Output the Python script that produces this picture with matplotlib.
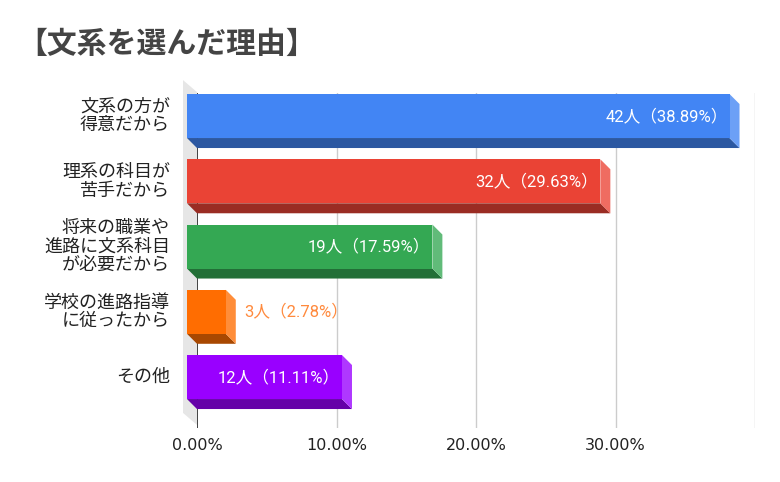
import matplotlib
matplotlib.use("Agg")
import matplotlib.pyplot as plt
from matplotlib.patches import Polygon
from matplotlib.colors import to_rgb
import numpy as np

title = "【文系を選んだ理由】"
categories = ["文系の方が\n得意だから", "理系の科目が\n苦手だから",
              "将来の職業や\n進路に文系科目\nが必要だから",
              "学校の進路指導\nに従ったから", "その他"]
counts = [42, 32, 19, 3, 12]
percents = [38.89, 29.63, 17.59, 2.78, 11.11]
colors = ["#4285F4", "#EA4335", "#34A853", "#FF6D01", "#9900FF"]
xticks = [0, 10, 20, 30, 40]
xticklabels = ["0.00%", "10.00%", "20.00%", "30.00%", ""]

W, H = 780, 482
fig = plt.figure(figsize=(W / 100, H / 100), dpi=100)
fig.patch.set_facecolor("white")

# back plane geometry (pixels)
L, R = 197, 755
T, B = 93.4, 427.5
XMAX = 40
YLO, YHI = -0.5, 4.62
ax = fig.add_axes([L / W, 1 - B / H, (R - L) / W, (B - T) / H])
ax.set_xlim(0, XMAX)
ax.set_ylim(YHI, YLO)
ax.axis("off")

pxx = (R - L) / XMAX
pxy = (B - T) / (YHI - YLO)
dx = 10 / pxx
dy = 10 / pxy
h = 44 / pxy

jp = ["Noto Sans CJK JP", "DejaVu Sans"]
lab_font = ["Roboto", "Noto Sans CJK JP", "DejaVu Sans"]

# left wall
wx = 14 / pxx
wy = 12 / pxy
wall = Polygon([(0, -0.52), (0, 4.58), (-wx, 4.58 - wy), (-wx, -0.52 - wy)],
               closed=True, facecolor="#e6e6e6", edgecolor="none",
               zorder=0, clip_on=False)
ax.add_patch(wall)

# gridlines
for v, lab in zip(xticks, xticklabels):
    if v == 0:
        ax.axvline(v, color="#333333", lw=1.3, zorder=1)
    else:
        ax.axvline(v, color="#cccccc", lw=1.0, zorder=1)
    if lab:
        ax.annotate(lab, xy=(v, 0), xycoords=("data", "axes fraction"),
                    xytext=(0, -18), textcoords="offset pixels",
                    ha="center", va="center", fontsize=11.5,
                    color="#222222", family="DejaVu Sans",
                    annotation_clip=False)

def shade(c, f):
    r, g, b = to_rgb(c)
    return (r * f, g * f, b * f)

def tint(c, f):
    r, g, b = to_rgb(c)
    return (r + (1 - r) * f, g + (1 - g) * f, b + (1 - b) * f)

ys = np.arange(len(categories))
ax.barh(ys - dy, percents, left=-dx, height=h, color=colors, zorder=3,
        clip_on=False)

for i, (v, c) in enumerate(zip(percents, colors)):
    yt = i - h / 2
    yb = i + h / 2
    bottom = Polygon([(-dx, yb - dy), (v - dx, yb - dy), (v, yb), (0, yb)],
                     closed=True, facecolor=shade(c, 0.66), edgecolor="none",
                     zorder=2, clip_on=False)
    right = Polygon([(v - dx, yt - dy), (v, yt), (v, yb), (v - dx, yb - dy)],
                    closed=True, facecolor=tint(c, 0.22), edgecolor="none",
                    zorder=2, clip_on=False)
    ax.add_patch(bottom)
    ax.add_patch(right)

    text = f"{counts[i]}人（{percents[i]:.2f}%）"
    if v < 5:
        ax.annotate(text, xy=(v - dx, i - dy), xytext=(18, 0),
                    textcoords="offset pixels", ha="left", va="center",
                    fontsize=12, color="#FF8A3D", family=lab_font, zorder=5,
                    annotation_clip=False)
    else:
        ax.annotate(text, xy=(v - dx, i - dy), xytext=(-2, 0),
                    textcoords="offset pixels", ha="right", va="center",
                    fontsize=12, color="white", family=lab_font, zorder=5,
                    annotation_clip=False)

    ax.annotate(categories[i], xy=(-dx, i - dy), xytext=(-17, 0),
                textcoords="offset pixels", ha="right", va="center",
                multialignment="right", fontsize=13, color="#222222",
                family=jp, linespacing=1.05, annotation_clip=False)

fig.text(17 / W, 1 - 44 / H, title, ha="left", va="center", fontsize=21.5,
         fontweight="bold", color="#444444", family=jp)

fig.savefig("out.png", dpi=100, facecolor="white")
